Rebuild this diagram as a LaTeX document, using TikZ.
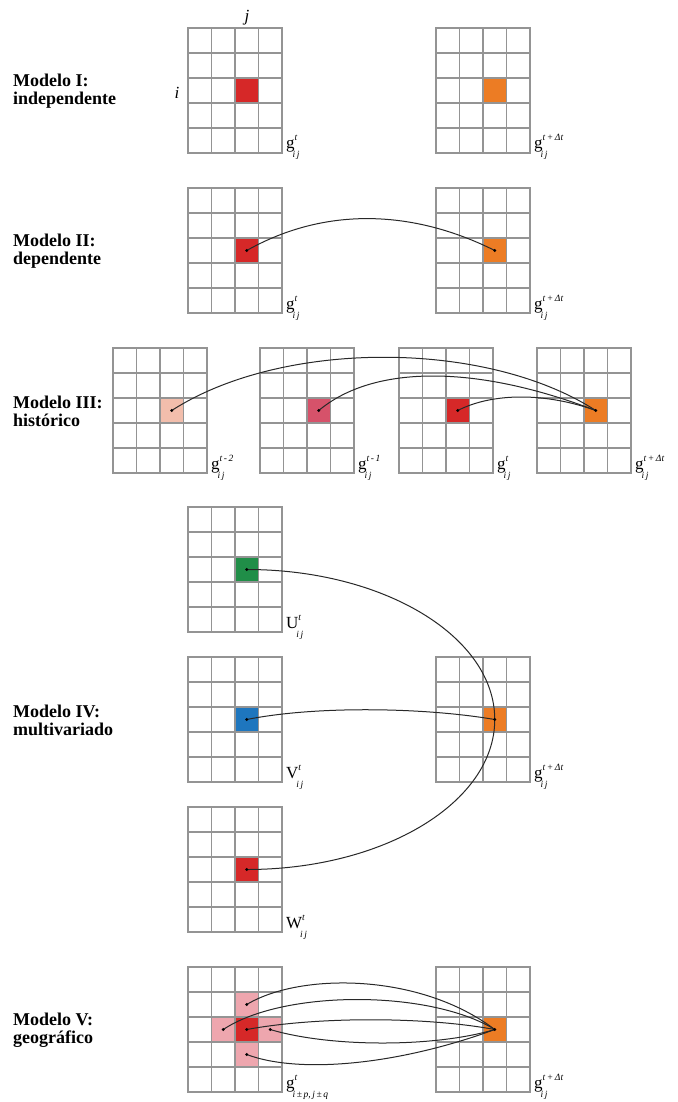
\documentclass[tikz,border=0pt]{standalone}
\usepackage{fontspec}
\setmainfont{Liberation Serif}
\usetikzlibrary{calc}
\pgfdeclarelayer{bg}
\pgfsetlayers{bg,main}
\definecolor{gridgray}{RGB}{148,148,148}
\definecolor{cred}{RGB}{214,40,40}
\definecolor{corange}{RGB}{236,124,36}
\definecolor{cgreen}{RGB}{32,142,72}
\definecolor{cblue}{RGB}{30,118,190}
\definecolor{csalmon}{RGB}{242,190,172}
\definecolor{cpink}{RGB}{214,82,106}
\definecolor{clpink}{RGB}{238,166,174}
\definecolor{linec}{RGB}{40,40,40}
\tikzset{
 gridline/.style={draw=gridgray, line width=1.1pt, line cap=rect},
 conn/.style={draw=linec, line width=1pt},
 cellbox/.style={draw=none, inner sep=0pt, outer sep=0pt, minimum width=23.5pt, minimum height=25pt},
 modeltxt/.style={anchor=west, align=left, inner sep=0pt, font=\fontsize{18}{18}\selectfont\bfseries},
 glabel/.style={anchor=base west, inner sep=0pt, font=\fontsize{17}{17}\selectfont},
 axlabel/.style={inner sep=0pt, font=\fontsize{17}{17}\selectfont\itshape},
}
\newcommand{\scrfont}{\fontsize{9.5}{9.5}\selectfont\itshape}
\newcommand{\gl}[3]{#1\rlap{\raisebox{8pt}{\scrfont #2}}\hspace{-2pt}\raisebox{-9pt}{\scrfont #3}}
\newcommand{\gridat}[4]{%
 \begin{scope}[shift={(#2,#3)}]
  \coordinate (#1) at (58.75,62.5);
  \foreach \k in {0,...,4} \draw[gridline] (\k*23.5,0) -- (\k*23.5,125);
  \foreach \k in {0,...,5} \draw[gridline] (0,\k*25) -- (94,\k*25);
  \node[glabel] (#1lab) at (98,121) {#4};
 \end{scope}}
\newcommand{\cellat}[3]{\begin{pgfonlayer}{bg}\node[cellbox, fill=#2] (#1) at (#3) {};\end{pgfonlayer}}
\newcommand{\dotat}[1]{\fill[black] (#1) circle[radius=1.7];}
\begin{document}
\begin{tikzpicture}[x=1pt,y=-1pt]
\useasboundingbox (0,0) rectangle (677,1102);
\begin{pgfonlayer}{bg}\fill[white] (0,0) rectangle (677,1102);\end{pgfonlayer}

% ---------- Model I
\node[modeltxt] (m1) at (13,91) {Modelo I:\\independente};
\gridat{aL}{188}{28}{\gl{g}{t}{i\,j}}
\gridat{aR}{436}{28}{\gl{g}{t\,+\,Δt}{i\,j}}
\cellat{aLc}{cred}{aL}
\cellat{aRc}{corange}{aR}
\node[axlabel] (jlab) at (247,18) {j};
\node[axlabel] (ilab) at (177,93) {i};

% ---------- Model II
\node[modeltxt] (m2) at (13,251) {Modelo II:\\dependente};
\gridat{bL}{188}{188}{\gl{g}{t}{i\,j}}
\gridat{bR}{436}{188}{\gl{g}{t\,+\,Δt}{i\,j}}
\cellat{bLc}{cred}{bL}
\cellat{bRc}{corange}{bR}
\draw[conn] (bL) .. controls +(80,-45) and +(-80,-40) .. (bR);
\dotat{bL}\dotat{bR}

% ---------- Model III
\node[modeltxt] (m3) at (13,411) {Modelo III:\\histórico};
\gridat{c1}{113}{348}{\gl{g}{t\,-\,2}{i\,j}}
\gridat{c2}{260}{348}{\gl{g}{t\,-\,1}{i\,j}}
\gridat{c3}{399}{348}{\gl{g}{t}{i\,j}}
\gridat{c4}{537}{348}{\gl{g}{t\,+\,Δt}{i\,j}}
\cellat{c1c}{csalmon}{c1}
\cellat{c2c}{cpink}{c2}
\cellat{c3c}{cred}{c3}
\cellat{c4c}{corange}{c4}
\draw[conn] (c1) .. controls +(110,-71) and +(-110,-71) .. (c4);
\draw[conn] (c2) .. controls +(55,-46) and +(-120,-46) .. (c4);
\draw[conn] (c3) .. controls +(35,-18) and +(-50,-18) .. (c4);
\dotat{c1}\dotat{c2}\dotat{c3}\dotat{c4}

% ---------- Model IV
\node[modeltxt] (m4) at (13,720) {Modelo IV:\\multivariado};
\gridat{dU}{188}{507}{\gl{U}{t}{i\,j}}
\gridat{dV}{188}{657}{\gl{V}{t}{i\,j}}
\gridat{dW}{188}{807}{\gl{W}{t}{i\,j}}
\gridat{dT}{436}{657}{\gl{g}{t\,+\,Δt}{i\,j}}
\cellat{dUc}{cgreen}{dU}
\cellat{dVc}{cblue}{dV}
\cellat{dWc}{cred}{dW}
\cellat{dTc}{corange}{dT}
\draw[conn] (dU) .. controls +(137,0) and +(0,-83) .. (dT);
\draw[conn] (dW) .. controls +(137,0) and +(0,83) .. (dT);
\draw[conn] (dV) .. controls +(70,-14) and +(-70,-12) .. (dT);
\dotat{dU}\dotat{dV}\dotat{dW}\dotat{dT}

% ---------- Model V
\node[modeltxt] (m5) at (13,1030) {Modelo V:\\geográfico};
\gridat{eL}{188}{967}{\gl{g}{t}{i\,±\,p,\,j\,±\,q}}
\gridat{eR}{436}{967}{\gl{g}{t\,+\,Δt}{i\,j}}
\coordinate (eTop) at ($(eL)+(0,-25)$);
\coordinate (eBot) at ($(eL)+(0,25)$);
\coordinate (eLeft) at ($(eL)+(-23.5,0)$);
\coordinate (eRight) at ($(eL)+(23.5,0)$);
\cellat{eTopc}{clpink}{eTop}
\cellat{eBotc}{clpink}{eBot}
\cellat{eLeftc}{clpink}{eLeft}
\cellat{eRightc}{clpink}{eRight}
\cellat{eLc}{cred}{eL}
\cellat{eRc}{corange}{eR}
\draw[conn] (eTop) .. controls +(53,-32) and +(-75,-57) .. (eR);
\draw[conn] (eLeft) .. controls +(60,-40) and +(-65,-40) .. (eR);
\draw[conn] (eL) .. controls +(70,-13) and +(-70,-13) .. (eR);
\draw[conn] (eRight) .. controls +(60,18) and +(-60,18) .. (eR);
\draw[conn] (eBot) .. controls +(53,20) and +(-95,35) .. (eR);
\dotat{eTop}\dotat{eBot}\dotat{eLeft}\dotat{eRight}\dotat{eL}\dotat{eR}
\end{tikzpicture}
\end{document}
